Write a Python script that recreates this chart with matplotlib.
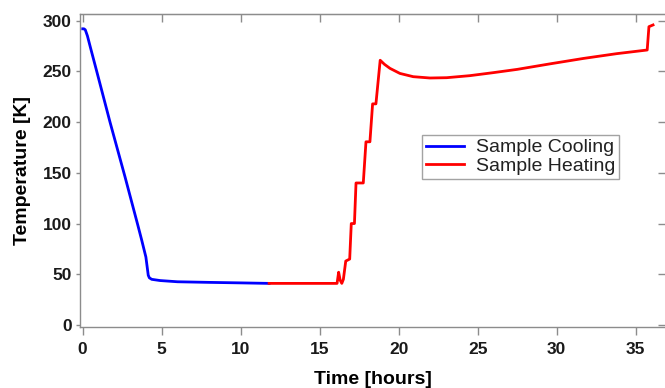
import matplotlib
matplotlib.use("Agg")
import matplotlib.pyplot as plt

# cooling run, time in hours and temperature in K
cool_t = [0.0, 0.08, 0.165, 0.3, 0.5, 0.89, 1.73, 2.68, 3.48, 3.73,
          4.0, 4.15, 4.22, 4.37, 4.9, 6.0, 8.0, 10.0, 11.8]
cool_T = [292, 292, 291, 285, 273, 250, 200, 146, 99, 84,
          67, 49, 46.5, 45, 43.8, 42.6, 42, 41.5, 41]

# heating run
heat_t = [11.8, 14.0, 16.1, 16.2, 16.3, 16.4, 16.5, 16.65, 16.9, 17.0, 17.2,
          17.3, 17.76, 17.93, 18.18, 18.35, 18.56, 18.83, 19.1, 19.45, 20.08,
          20.92, 21.98, 23.04, 24.5, 26.0, 27.5, 29.6, 31.7, 33.8, 35.73,
          35.84, 36.1]
heat_T = [41, 41, 41, 52, 44, 41, 45, 63, 65, 100, 100,
          140, 140, 180.6, 180.6, 218, 218, 261, 257, 253, 248,
          244.8, 243.5, 243.8, 245.8, 248.8, 252, 257.5, 262.8, 267.5, 271.1,
          294.1, 295.8]

xticks = [0, 5, 10, 15, 20, 25, 30, 35]
yticks = [0, 50, 100, 150, 200, 250, 300]

plt.rcParams['font.family'] = ['Liberation Sans', 'DejaVu Sans']

fig = plt.figure(figsize=(6.65, 3.88), dpi=100)
ax = fig.add_axes([80 / 665, 1 - 326.7 / 388, 586 / 665, (326.7 - 14) / 388])

ax.plot(cool_t, cool_T, color='#0000ff', lw=2.0, label='Sample Cooling')
ax.plot(heat_t, heat_T, color='#ff0000', lw=2.0, label='Sample Heating')

ax.set_xlim(-0.17, 36.92)
ax.set_ylim(-1.7, 306.6)
ax.set_xticks(xticks)
ax.set_yticks(yticks)

grey = '#8c8c8c'
for s in ax.spines.values():
    s.set_color(grey)
    s.set_linewidth(1.0)

ax.tick_params(axis='x', direction='out', length=6, width=1, color=grey,
               pad=5, labelsize=12.5, labelcolor='#1a1a1a')
ax.tick_params(axis='y', direction='out', length=3, width=1, color=grey,
               pad=3, labelsize=12.5, labelcolor='#1a1a1a')
for lbl in ax.get_xticklabels() + ax.get_yticklabels():
    lbl.set_fontweight('bold')

# inward ticks on top and right
top = ax.secondary_xaxis('top')
top.set_xticks(xticks)
top.tick_params(direction='in', length=6, width=1, color=grey, labeltop=False)
right = ax.secondary_yaxis('right')
right.set_yticks(yticks)
right.tick_params(direction='in', length=6, width=1, color=grey, labelright=False)
for sa in (top, right):
    for s in sa.spines.values():
        s.set_color(grey)

ax.set_xlabel('Time [hours]', fontsize=14, fontweight='bold', labelpad=10)
ax.set_ylabel('Temperature [K]', fontsize=14, fontweight='bold', labelpad=8.5)

leg = ax.legend(loc='upper left', bbox_to_anchor=((421.7 - 80) / 586, (326.7 - 135) / 312.7),
                fontsize=14, frameon=True, fancybox=False, handlelength=2.0,
                handletextpad=0.6, borderpad=0.2, labelspacing=0.05,
                borderaxespad=0)
leg.get_frame().set_edgecolor(grey)
leg.get_frame().set_linewidth(1.0)
for t in leg.get_texts():
    t.set_color('#222222')

fig.savefig('out.png', dpi=100)
